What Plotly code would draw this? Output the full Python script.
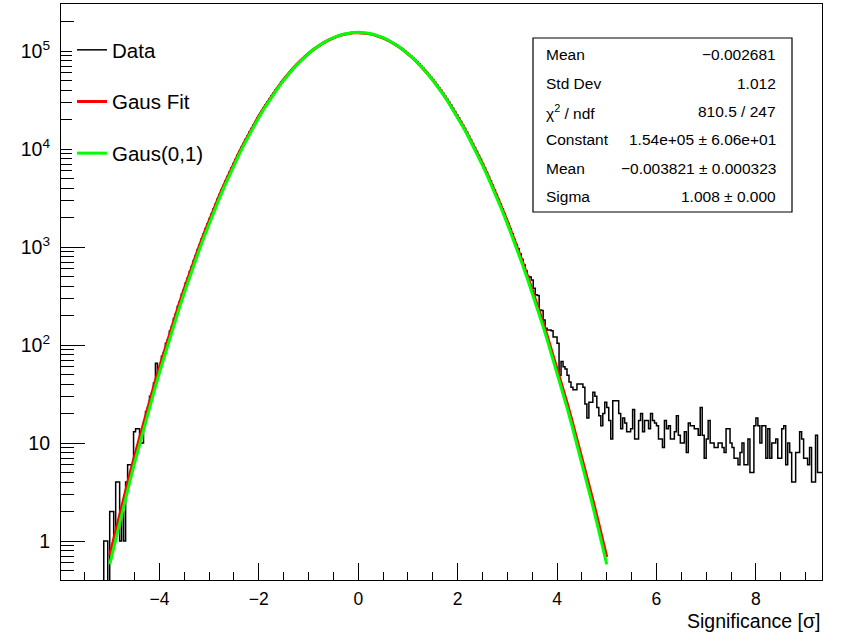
import numpy as np
import plotly.graph_objects as go

# ---------------- data ----------------
bin_start = -5.12
bin_width = 0.04

left_tail_counts = [1, 1, 0, 2, 2, 1, 4, 4, 1, 2, 1, 4, 6, 6, 6, 13, 14, 14, 10, 10,
                    16, 21, 23, 30, 32, 41, 65, 52]
core_neg_counts = [60, 77, 84, 104, 113, 139, 155, 186, 208, 249,
                   276, 329, 366, 431, 482, 561, 631, 729, 821, 941,
                   1056, 1204, 1357, 1543, 1727, 1953, 2186, 2463, 2747, 3084,
                   3427, 3834, 4256, 4745, 5247, 5826, 6437, 7115, 7836, 8634,
                   9476, 10405, 11396, 12504, 13597, 14904, 16196, 17604, 19097, 20703,
                   22396, 24204, 26097, 28104, 30196, 32404, 34696, 37104, 39696, 42304,
                   45096, 47904, 50896, 53904, 57096, 60304, 63696, 67104, 70496, 74004,
                   77596, 81204, 84896, 88604, 92296, 96004, 99696, 103404, 106996, 110604,
                   114196, 117604, 120996, 124304, 127496, 130504, 133396, 136204, 138796, 141204,
                   143396, 145504, 147296, 149004, 150396, 151604, 152496, 153204, 153696, 154004]
core_pos_counts = [153996, 153704, 153196, 152504, 151596, 150404, 148996, 147304, 145496, 143404,
                   141196, 138804, 136196, 133404, 130496, 127504, 124296, 121004, 117596, 114204,
                   110596, 107004, 103396, 99704, 95996, 92304, 88596, 84904, 81196, 77604,
                   73996, 70504, 67096, 63704, 60296, 57104, 53896, 50904, 47896, 45104,
                   42296, 39704, 37096, 34704, 32396, 30204, 28096, 26104, 24196, 22404,
                   20696, 19104, 17596, 16204, 14896, 13604, 12496, 11404, 10396, 9484,
                   8626, 7844, 7106, 6444, 5816, 5254, 4736, 4264, 3826, 3434,
                   3076, 2754, 2456, 2194, 1946, 1734, 1536, 1364, 1196, 1064]
right_mid_counts = [960, 850, 745, 655, 570, 500, 495, 460, 380, 325,
                    320, 228, 225, 180, 148, 142, 142, 140, 121, 121, 104]
right_tail1_counts = [49, 68, 60, 57, 49, 42, 37, 35, 35, 40,
                      40, 40, 37, 25, 18, 26, 26, 33, 30, 23,
                      19, 15, 20, 26, 23, 17, 11, 27, 27, 27,
                      20, 14, 18, 16, 13, 13, 14, 22, 11, 11,
                      17, 20, 13, 17, 17, 14, 20, 17, 16, 15,
                      11, 11, 9, 17, 14, 15, 11, 11, 13, 19,
                      12, 10, 10, 13, 8]
right_tail2_counts = [16, 15, 15, 14, 14, 12, 23, 12, 7, 11,
                      17, 10, 10, 9, 9, 10, 10, 9, 8, 14,
                      14, 10, 9, 7, 7, 6, 8, 10, 6, 6,
                      11, 5, 5, 15, 18, 15, 10, 15, 15, 7,
                      14, 7, 10, 10, 11, 7, 7, 14, 15, 6,
                      10, 8, 4, 4, 8, 8, 13, 11, 7, 7,
                      6, 9, 4, 4, 12, 5, 5, 5]

# fit parameters (from the stats box)
fit_const, fit_mean, fit_sigma = 1.54e5, -0.003821, 1.008
std_const, std_mean, std_sigma = 1.54e5 * 1.008, 0.0, 1.0
fit_lo, fit_hi = -5.0, 5.0

stats_labels = ["Mean", "Std Dev", "χ<sup>2</sup> / ndf", "Constant", "Mean", "Sigma"]
stats_values = ["\u22120.002681", "1.012", "810.5 / 247", "1.54e+05 ± 6.06e+01",
                "\u22120.003821 ± 0.000323", "1.008 ± 0.000"]

x_tick_vals = [-4, -2, 0, 2, 4, 6, 8]
y_tick_vals = [1, 10, 100, 1000, 10000, 100000]
y_tick_text = ["1", "10", "10<sup>2</sup>", "10<sup>3</sup>", "10<sup>4</sup>", "10<sup>5</sup>"]

# ---------------- build ----------------
counts = (left_tail_counts + core_neg_counts + core_pos_counts + right_mid_counts
          + right_tail1_counts + right_tail2_counts)
n = len(counts)
edges = bin_start + bin_width * np.arange(n + 1)
floor = 1e-2
cy = [c if c > 0 else floor for c in counts]
hx = [edges[0] - bin_width] + list(edges[:-1]) + [edges[-1]]
hy = [floor] + cy + [cy[-1]]

xf = np.linspace(fit_lo, fit_hi, 101)
yfit = fit_const * np.exp(-0.5 * ((xf - fit_mean) / fit_sigma) ** 2)
ystd = std_const * np.exp(-0.5 * ((xf - std_mean) / std_sigma) ** 2)

W, H = 844, 633
L, R, T, B = 61, 822, 4, 580
FONT = "Liberation Sans, Arial, Helvetica, sans-serif"


def pxx(p):
    return (p - L) / (R - L)


def pxy(p):
    return 1 - (p - T) / (B - T)


fig = go.Figure()
fig.add_trace(go.Scatter(x=hx, y=hy, mode="lines", line=dict(color="black", width=1.5, shape="hv"),
                         name="Data", legendgroup="a"))
fig.add_trace(go.Scatter(x=xf, y=yfit, mode="lines", line=dict(color="#ff0000", width=3),
                         name="Gaus Fit", legendgroup="b"))
fig.add_trace(go.Scatter(x=xf, y=ystd, mode="lines", line=dict(color="#00ff00", width=3),
                         name="Gaus(0,1)", legendgroup="c"))

x_minor = [v / 2 for v in range(-12, 19) if v % 4 != 0]
y_minor = [m * 10 ** k for k in range(-1, 6) for m in range(2, 10)]
y_minor = [v for v in y_minor if 0.4 <= v <= 3.0e5]

fig.update_layout(
    width=W, height=H,
    margin=dict(l=L, r=W - R, t=T, b=H - B),
    paper_bgcolor="white", plot_bgcolor="white",
    font=dict(family=FONT, color="black"),
    showlegend=True,
    legend=dict(x=pxx(72), y=pxy(30), xanchor="left", yanchor="top", bgcolor="white",
                borderwidth=0, font=dict(size=20.5, family=FONT), tracegroupgap=22,
                itemwidth=30),
    xaxis=dict(range=[-5.98, 9.33], showgrid=False, zeroline=False,
               showline=True, linecolor="black", linewidth=1.2, mirror=True,
               ticks="inside", ticklen=17, tickcolor="black", tickwidth=1,
               tickmode="array", tickvals=x_tick_vals,
               tickfont=dict(size=17.5, family=FONT), ticklabelstandoff=3,
               minor=dict(tickmode="array", tickvals=x_minor, ticks="inside", ticklen=8,
                          tickcolor="black", tickwidth=1)),
    yaxis=dict(type="log", range=[-0.398, 5.480], showgrid=False, zeroline=False,
               showline=True, linecolor="black", linewidth=1.2, mirror=True,
               ticks="inside", ticklen=24, tickcolor="black", tickwidth=1,
               tickmode="array", tickvals=y_tick_vals, ticktext=y_tick_text,
               tickfont=dict(size=19.5, family=FONT), ticklabelstandoff=6,
               minor=dict(tickmode="array", tickvals=y_minor, ticks="inside", ticklen=13,
                          tickcolor="black", tickwidth=1)),
)

# stats box
fig.add_shape(type="rect", xref="paper", yref="paper",
              x0=pxx(533), x1=pxx(792), y0=pxy(212), y1=pxy(38),
              line=dict(color="black", width=1.2), fillcolor="white", layer="above")
for i, (lab, val) in enumerate(zip(stats_labels, stats_values)):
    yy = pxy(55 + 28.3 * i)
    fig.add_annotation(xref="paper", yref="paper", x=pxx(544), y=yy, text=lab,
                       xanchor="left", yanchor="middle", showarrow=False,
                       font=dict(size=15.5, family=FONT, color="black"))
    fig.add_annotation(xref="paper", yref="paper", x=pxx(778), y=yy, text=val,
                       xanchor="right", yanchor="middle", showarrow=False,
                       font=dict(size=15.5, family=FONT, color="black"))

# x-axis title (right aligned as in ROOT)
fig.add_annotation(xref="paper", yref="paper", x=1, y=pxy(621), text="Significance [σ]",
                   xanchor="right", yanchor="middle", showarrow=False,
                   font=dict(size=19.5, family=FONT, color="black"))

fig.write_html("out.html")
